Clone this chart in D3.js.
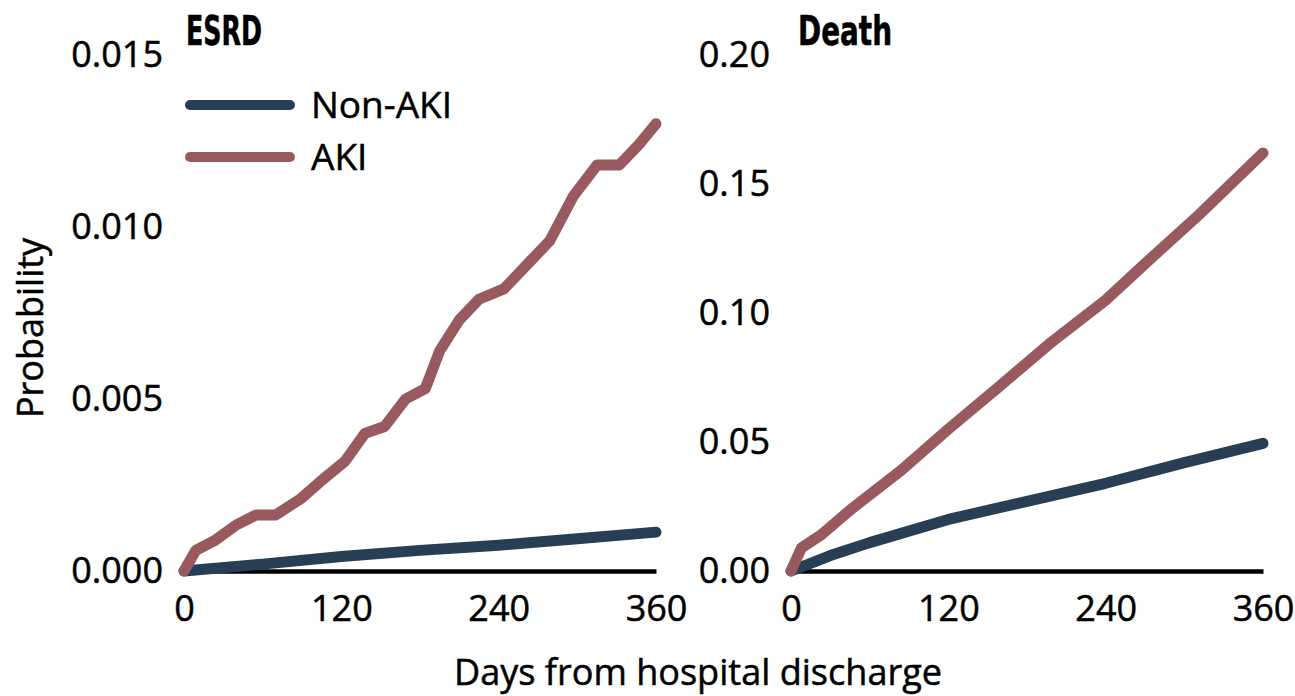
<!DOCTYPE html>
<html lang="en">
<head>
  <meta charset="UTF-8">
  <title>ESRD and Death after discharge</title>
  <script src="https://d3js.org/d3.v7.min.js"></script>
  <style>
    body {
      margin: 0;
      background: white;
    }
    svg {
      display: block;
      background: white;
    }
    text {
      font-family: "Open Sans", "Noto Sans", sans-serif;
      fill: #000;
      stroke: #000;
      stroke-width: 0.5px;
    }
  </style>
</head>
<body>
<svg width="1295" height="696"></svg>

<script>
  // ---- data ----
  const xTicks = [0, 120, 240, 360];
  const esrdTicks = [0, 0.005, 0.010, 0.015];
  const deathTicks = [0, 0.05, 0.10, 0.15, 0.20];

  const esrdAkiDays = [0, 9, 24, 40, 55, 70, 89, 104, 123, 138, 153, 169, 184, 195, 210, 225, 244, 264, 279, 297, 315, 332, 347, 360];
  const esrdAki = [0, 0.0006, 0.0009, 0.00134, 0.00163, 0.00163, 0.0021, 0.0026, 0.0032, 0.0040, 0.0042, 0.0050, 0.0053, 0.0064, 0.0073, 0.0079, 0.0082, 0.0090, 0.0096, 0.0109, 0.0118, 0.0118, 0.0124, 0.0130];
  const esrdNonAkiDays = [0, 60, 120, 180, 240, 300, 360];
  const esrdNonAki = [0, 0.0002, 0.00042, 0.0006, 0.00075, 0.00094, 0.00113];

  const deathAkiDays = [0, 8, 23, 46, 84, 120, 160, 197, 240, 273, 311, 360];
  const deathAki = [0, 0.009, 0.014, 0.024, 0.039, 0.055, 0.072, 0.088, 0.105, 0.1205, 0.138, 0.162];
  const deathNonAkiDays = [0, 30, 60, 120, 180, 240, 300, 360];
  const deathNonAki = [0, 0.006, 0.011, 0.020, 0.027, 0.034, 0.042, 0.0495];

  const seriesNames = ["Non-AKI", "AKI"];
  const colors = { "Non-AKI": "#283e54", "AKI": "#985a5f" };

  const svg = d3.select("svg");

  function zip(days, vals) {
    return days.map((d, i) => [d, vals[i]]);
  }

  function drawPanel(opts) {
    const x = d3.scaleLinear().domain([0, 360]).range([opts.x0, opts.x1]);
    const y = d3.scaleLinear().domain(opts.yDomain).range([571, 55]);
    const g = svg.append("g");

    // x axis: black baseline, labels below
    const xAxis = g.append("g")
      .attr("transform", `translate(0, ${y(0)})`)
      .call(d3.axisBottom(x).tickValues(xTicks).tickSize(0).tickPadding(24).tickFormat(d3.format("d")));
    xAxis.select(".domain").attr("stroke", "#000").attr("stroke-width", 4.5);
    xAxis.selectAll("text").style("font-size", "36px").attr("font-family", null);

    // y axis: labels only
    const yAxis = g.append("g")
      .attr("transform", `translate(${opts.x0}, 0)`)
      .call(d3.axisLeft(y).tickValues(opts.yTicks).tickSize(0).tickPadding(21).tickFormat(d3.format(opts.fmt)));
    yAxis.select(".domain").remove();
    yAxis.selectAll("text").style("font-size", "36px").attr("font-family", null);

    const line = d3.line().x(d => x(d[0])).y(d => y(d[1]));

    g.selectAll("path.series")
      .data(opts.series)
      .join("path")
      .attr("class", "series")
      .attr("d", d => line(d.values))
      .attr("fill", "none")
      .attr("stroke", d => colors[d.name])
      .attr("stroke-width", 11)
      .attr("stroke-linecap", "round")
      .attr("stroke-linejoin", "round");

    // panel title
    g.append("text")
      .attr("x", opts.titleX)
      .attr("y", 45)
      .attr("textLength", opts.titleW)
      .attr("lengthAdjust", "spacingAndGlyphs")
      .style("font-family", "'Liberation Sans Narrow', 'DejaVu Sans Condensed', sans-serif")
      .style("font-weight", "bold")
      .style("font-size", "40px")
      .text(opts.title);
  }

  drawPanel({
    x0: 184, x1: 656,
    yDomain: [0, 0.015], yTicks: esrdTicks, fmt: ".3f",
    title: "ESRD", titleX: 186, titleW: 76,
    series: [
      { name: "Non-AKI", values: zip(esrdNonAkiDays, esrdNonAki) },
      { name: "AKI", values: zip(esrdAkiDays, esrdAki) }
    ]
  });

  drawPanel({
    x0: 791, x1: 1263,
    yDomain: [0, 0.20], yTicks: deathTicks, fmt: ".2f",
    title: "Death", titleX: 798, titleW: 94,
    series: [
      { name: "Non-AKI", values: zip(deathNonAkiDays, deathNonAki) },
      { name: "AKI", values: zip(deathAkiDays, deathAki) }
    ]
  });

  // legend
  const legend = svg.append("g");
  seriesNames.forEach((name, i) => {
    const ly = 105 + i * 52;
    legend.append("line")
      .attr("x1", 190).attr("x2", 290)
      .attr("y1", ly).attr("y2", ly)
      .attr("stroke", colors[name])
      .attr("stroke-width", 10)
      .attr("stroke-linecap", "round");
    legend.append("text")
      .attr("x", 311)
      .attr("y", ly + 13)
      .style("font-size", "37px")
      .text(name);
  });

  // axis titles
  svg.append("text")
    .attr("transform", "translate(43, 328) rotate(-90)")
    .attr("text-anchor", "middle")
    .style("font-size", "36px")
    .text("Probability");

  svg.append("text")
    .attr("x", 454)
    .attr("y", 685)
    .attr("textLength", 488)
    .attr("lengthAdjust", "spacingAndGlyphs")
    .style("font-size", "37px")
    .text("Days from hospital discharge");
</script>
</body>
</html>
